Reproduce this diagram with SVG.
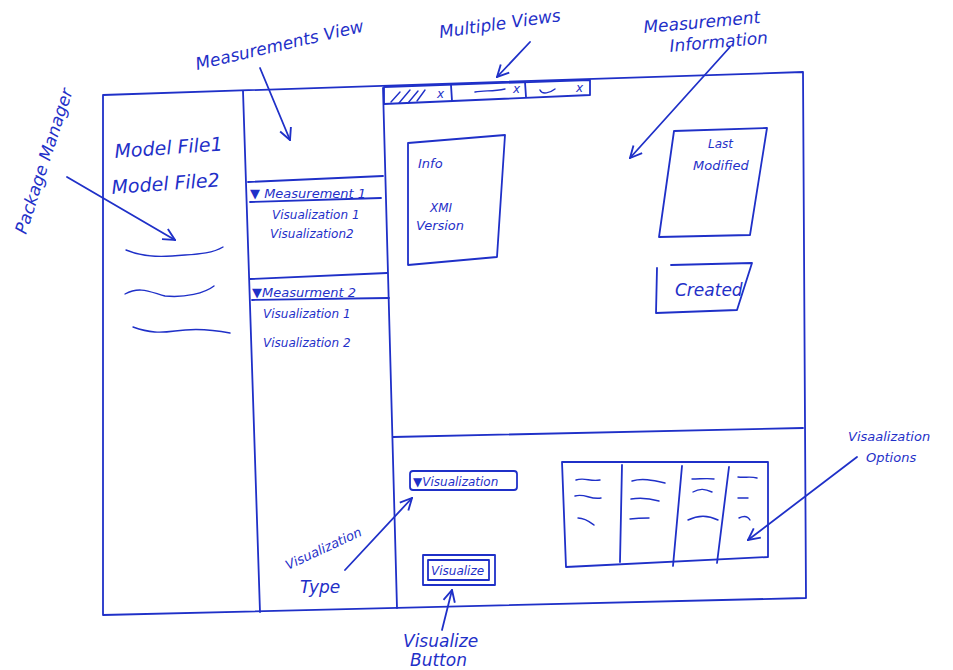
<svg xmlns="http://www.w3.org/2000/svg" width="953" height="670" viewBox="0 0 953 670">
<style>
.ln{fill:none;stroke:#1f30c8;stroke-width:1.8;stroke-linecap:round;stroke-linejoin:round}
.th{fill:none;stroke:#1f30c8;stroke-width:1.4;stroke-linecap:round}
.t{font-family:"DejaVu Sans","Liberation Sans",sans-serif;font-style:italic;fill:#1f30c8}
.xl{font-size:19px}
.l{font-size:17px}
.m{font-size:13px}
.s{font-size:12px}
</style>
<defs>
<marker id="ah" viewBox="0 0 12 12" refX="11" refY="6" markerWidth="14" markerHeight="14" orient="auto" markerUnits="userSpaceOnUse">
<path d="M1,1 L11,6 L1,11" fill="none" stroke="#1f30c8" stroke-width="1.6"/>
</marker>
</defs>
<rect width="953" height="670" fill="#ffffff"/>

<g id="window">
<path class="ln" d="M103,95 L803,72 L806,598 L103,615 Z"/>
<path class="ln" d="M243,91 L260,612"/>
<path class="ln" d="M383,88 L397,608"/>
<path class="ln" d="M393,437 L803,428"/>
</g>

<g id="package-manager">
<text class="t xl" x="115" y="158" transform="rotate(-4 115 158)">Model File1</text>
<text class="t xl" x="112" y="194" transform="rotate(-4 112 194)">Model File2</text>
<path class="th" d="M126,250 C145,258 165,257 185,255 C200,254 213,253 223,247"/>
<path class="th" d="M125,294 C140,286 150,292 165,296 C185,298 205,293 214,286"/>
<path class="th" d="M133,327 C150,333 160,333 175,331 C195,328 210,329 230,333"/>
</g>

<g id="measurements-view">
<path class="ln" d="M248,182 L383,176"/>
<text class="t m" x="250" y="198">▼ Measurement 1</text>
<path class="ln" d="M250,202 L381,198"/>
<text class="t s" x="272" y="219">Visualization 1</text>
<text class="t s" x="270" y="238">Visualization2</text>
<path class="ln" d="M250,279 L387,273"/>
<text class="t m" x="252" y="297">▼Measurment 2</text>
<path class="ln" d="M252,300 L389,298"/>
<text class="t s" x="263" y="318">Visualization 1</text>
<text class="t s" x="263" y="347">Visualization 2</text>
</g>

<g id="tabs">
<path class="ln" d="M384,87 L590,80 L590,95 L384,104 Z"/>
<path class="ln" d="M451,85 L452,101"/>
<path class="ln" d="M525,82 L526,97"/>
<path class="th" d="M391,102 L400,92 M399,103 L410,90 M408,103 L418,91 M417,101 L425,90"/>
<text class="t s" x="437" y="98">x</text>
<path class="th" d="M475,92 C485,90 492,92 505,89"/>
<text class="t s" x="513" y="93">x</text>
<path class="th" d="M540,90 C542,95 550,93 555,89"/>
<text class="t s" x="576" y="92">x</text>
</g>

<g id="info-box">
<path class="ln" d="M408,143 L505,135 L497,257 L408,265 Z"/>
<text class="t m" x="418" y="168">Info</text>
<text class="t s" x="430" y="212">XMI</text>
<text class="t m" x="416" y="230">Version</text>
</g>

<g id="last-modified">
<path class="ln" d="M674,131 L767,128 L750,235 L659,237 Z"/>
<text class="t s" x="708" y="148">Last</text>
<text class="t m" x="693" y="170">Modified</text>
</g>

<g id="created">
<path class="ln" d="M671,265 L752,263 L737,310 L656,313 L657,268"/>
<text class="t l" x="675" y="296">Created</text>
</g>

<g id="visualization-dropdown">
<rect class="ln" x="410" y="471" width="107" height="19" rx="3"/>
<text class="t s" x="413" y="486">▼Visualization</text>
</g>

<g id="visualize-button">
<rect class="ln" x="423" y="555" width="72" height="30"/>
<rect class="ln" x="428" y="560" width="61" height="20"/>
<text class="t s" x="431" y="575">Visualize</text>
</g>

<g id="options-table">
<path class="ln" d="M562,462 L768,462 L768,557 L566,567 Z"/>
<path class="ln" d="M622,465 L620,562"/>
<path class="ln" d="M682,466 L673,566"/>
<path class="ln" d="M729,467 L717,563"/>
<path class="th" d="M576,480 C585,477 590,482 600,480 M575,496 C585,493 590,500 601,498 M578,518 C585,518 590,522 594,525"/>
<path class="th" d="M632,481 C642,478 652,480 665,483 M631,499 C642,497 652,499 659,501 M630,519 C638,518 645,518 649,518"/>
<path class="th" d="M692,479 C700,479 708,478 714,479 M693,492 C700,488 705,489 712,492 M688,520 C700,514 710,516 718,520"/>
<path class="th" d="M738,477 C745,478 750,476 757,478 M738,498 L748,498 M739,518 C743,516 747,515 750,520"/>
</g>

<g id="labels">
<text class="t l" x="0" y="0" transform="translate(26,235) rotate(-72)">Package Manager</text>
<text class="t l" x="0" y="0" transform="translate(197,70) rotate(-13)">Measurements View</text>
<text class="t l" x="0" y="0" transform="translate(440,38) rotate(-8)">Multiple Views</text>
<text class="t l" x="0" y="0" transform="translate(644,33) rotate(-5)">Measurement</text>
<text class="t l" x="0" y="0" transform="translate(670,52) rotate(-5)">Information</text>
<text class="t m" x="0" y="0" transform="translate(288,570) rotate(-25)">Visualization</text>
<text class="t l" x="300" y="593">Type</text>
<text class="t l" x="403" y="647">Visualize</text>
<text class="t l" x="410" y="666">Button</text>
<text class="t m" x="848" y="441">Visaalization</text>
<text class="t m" x="866" y="462">Options</text>
</g>

<g id="connectors">
<path class="ln" d="M67,177 L175,240" marker-end="url(#ah)"/>
<path class="ln" d="M260,68 L290,140" marker-end="url(#ah)"/>
<path class="ln" d="M530,42 L497,77" marker-end="url(#ah)"/>
<path class="ln" d="M730,47 L630,158" marker-end="url(#ah)"/>
<path class="ln" d="M345,570 L412,498" marker-end="url(#ah)"/>
<path class="ln" d="M442,630 L452,590" marker-end="url(#ah)"/>
<path class="ln" d="M857,457 L748,540" marker-end="url(#ah)"/>
</g>
</svg>
